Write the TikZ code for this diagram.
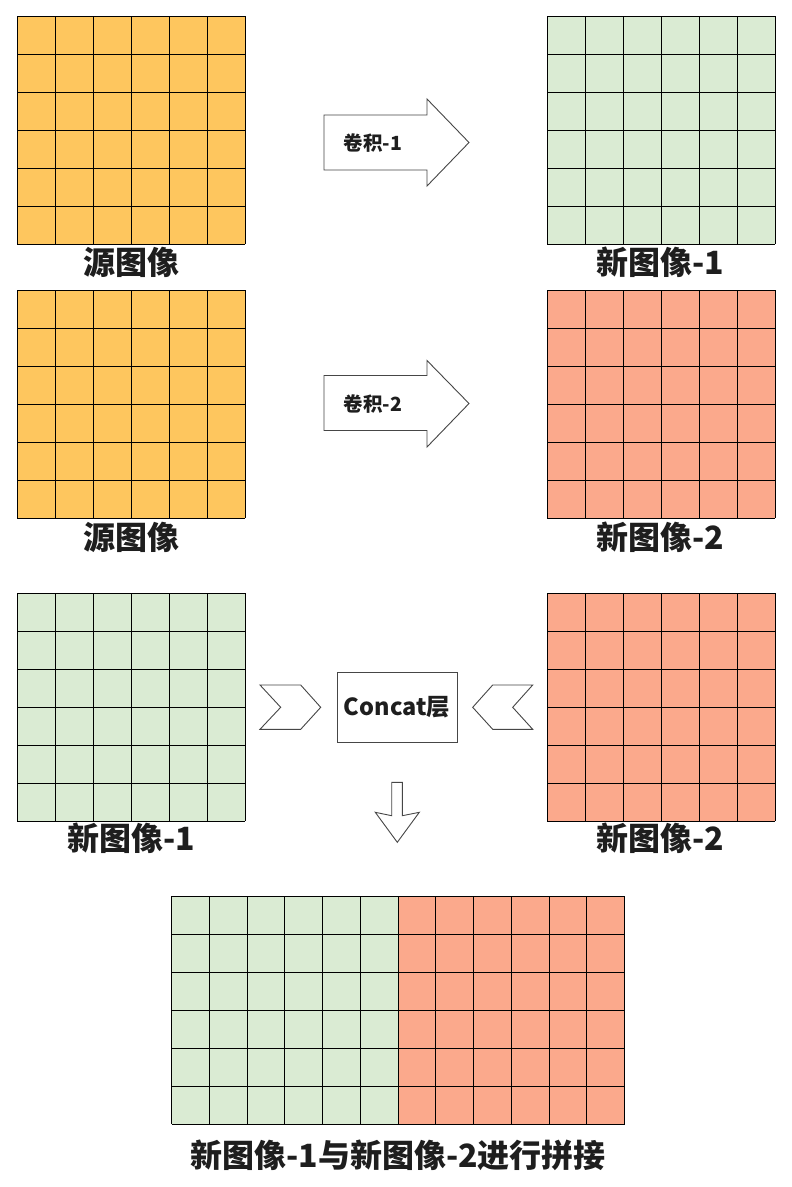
\documentclass[tikz,border=0pt]{standalone}
\usepackage{fontspec}
\setmainfont{Noto Sans CJK SC}
\usetikzlibrary{calc}
\definecolor{orangecell}{RGB}{254,198,94}
\definecolor{greencell}{RGB}{218,235,211}
\definecolor{salmoncell}{RGB}{251,169,140}
\definecolor{labeltext}{RGB}{30,30,30}
\definecolor{shapeline}{RGB}{70,70,70}
\tikzset{
  gridline/.style={draw=black, line width=1},
  block/.style={inner sep=0, outer sep=0, minimum width=228, minimum height=228, anchor=north west},
  lbl/.style={font=\fontsize{32}{34}\selectfont\bfseries, text=labeltext, inner sep=0},
  arrowtext/.style={font=\fontsize{19.5}{21}\selectfont\bfseries, text=labeltext, inner sep=0},
  blockarrow/.style={draw=shapeline, line width=0.9, fill=white, line join=miter},
}
\newcommand\cellgrid[3]{% node name, columns, cell width
  \foreach \i in {0,...,#2} \draw[gridline] ($(#1.north west)+(\i*#3,0)$) -- ++(0,228);
  \foreach \j in {0,...,6} \draw[gridline] ($(#1.north west)+(0,\j*38)$) -- ++(#2*#3,0);
}
\begin{document}
\begin{tikzpicture}[x=1pt,y=-1pt]
\useasboundingbox[fill=white] (0,0) rectangle (792,1187);
% row 1
\node[block, fill=orangecell] (src1) at (17,16) {};
\cellgrid{src1}{6}{38}
\node[block, fill=greencell] (new1) at (547,16) {};
\cellgrid{new1}{6}{38}
\node[lbl] (lsrc1) at (131,262) {源图像};
\node[lbl] (lnew1) at (660,262) {新图像-1};
\draw[blockarrow] (324,115) -- (427,115) -- (427,99) -- (469,142.5) -- (427,186) -- (427,170) -- (324,170) -- cycle;
\node[arrowtext] (conv1) at (373,143) {卷积-1};
% row 2
\node[block, fill=orangecell] (src2) at (17,290) {};
\cellgrid{src2}{6}{38}
\node[block, fill=salmoncell] (new2) at (547,290) {};
\cellgrid{new2}{6}{38}
\node[lbl] (lsrc2) at (131,537) {源图像};
\node[lbl] (lnew2) at (660,537) {新图像-2};
\draw[blockarrow] (324,375.5) -- (427,375.5) -- (427,360.5) -- (469,403.5) -- (427,447) -- (427,430.5) -- (324,430.5) -- cycle;
\node[arrowtext] (conv2) at (373,404) {卷积-2};
% row 3
\node[block, fill=greencell] (in1) at (17,593) {};
\cellgrid{in1}{6}{38}
\node[block, fill=salmoncell] (in2) at (547,593) {};
\cellgrid{in2}{6}{38}
\node[lbl] (lin1) at (131,838) {新图像-1};
\node[lbl] (lin2) at (660,838) {新图像-2};
\node[draw=shapeline, line width=1, minimum width=120, minimum height=70, inner sep=0,
      font=\fontsize{23.5}{25}\selectfont\bfseries, text=labeltext] (concat) at (397,707) {Concat层};
\draw[blockarrow] (260,685) -- (300.7,685) -- (320.7,707.3) -- (300.7,729.3) -- (260,729.3) -- (280.7,707.3) -- cycle;
\draw[blockarrow] (532.7,685) -- (492.7,685) -- (472.7,707.3) -- (492.7,729.3) -- (532.7,729.3) -- (512.7,707.3) -- cycle;
\draw[blockarrow] (391.7,782.3) -- (402.3,782.3) -- (402.3,815.7) -- (419.3,812.3) -- (397.3,842.3) -- (375.3,812.3) -- (391.7,815.7) -- cycle;
% row 4
\node[block, fill=greencell, minimum width=226.5] (outl) at (171.5,896) {};
\node[block, fill=salmoncell, minimum width=226.5] (outr) at (398,896) {};
\cellgrid{outl}{12}{37.75}
\node[lbl] (lout) at (398,1155) {新图像-1与新图像-2进行拼接};
\end{tikzpicture}
\end{document}
